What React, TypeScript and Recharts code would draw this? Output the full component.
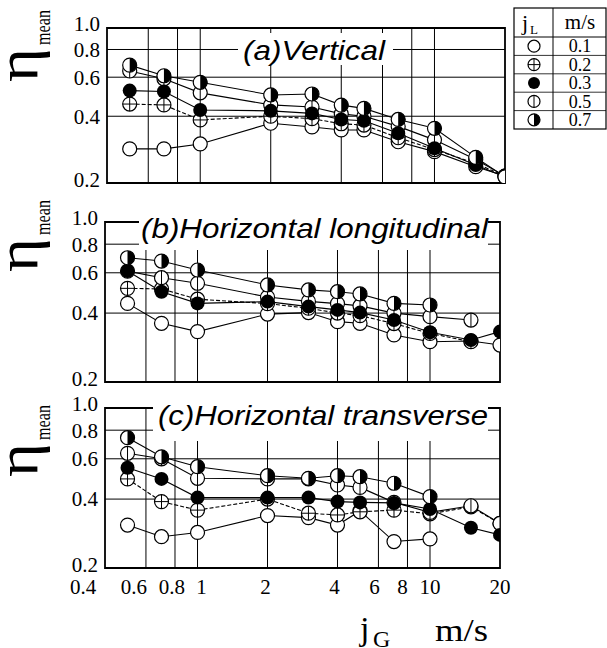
import React from "react";
import {
  CartesianGrid,
  Line,
  LineChart,
  ReferenceArea,
  XAxis,
  YAxis,
} from "recharts";

// gas superficial velocity j_G (m/s)
const jG = [0.5, 0.7, 1, 2, 3, 4, 5, 7, 10, 15, 20];
const jLLevels = ["0.1", "0.2", "0.3", "0.5", "0.7"];

const xTicks = [0.4, 0.6, 0.8, 1, 2, 4, 6, 8, 10, 20];
const yTicks = [0.2, 0.4, 0.6, 0.8, 1.0];

// (a) Vertical
const vert01 = [0.285, 0.285, 0.3, 0.372, 0.358, 0.347, 0.347, 0.307, 0.277, 0.237, 0.215];
const vert02 = [0.454, 0.45, 0.385, 0.4, 0.39, 0.37, 0.365, 0.32, 0.283, 0.245, 0.215];
const vert03 = [0.522, 0.517, 0.427, 0.423, 0.412, 0.387, 0.382, 0.335, 0.287, 0.241, 0.213];
const vert05 = [0.64, 0.59, 0.51, 0.45, 0.44, 0.41, 0.4, 0.36, 0.313, 0.255, 0.215];
const vert07 = [0.68, 0.609, 0.569, 0.499, 0.504, 0.449, 0.434, 0.387, 0.353, 0.261, 0.213];

// (b) Horizontal longitudinal
const lon01 = [0.441, 0.361, 0.332, 0.396, 0.402, 0.367, 0.361, 0.321, 0.3, 0.302, 0.29];
const lon02 = [0.513, 0.51, 0.46, 0.44, 0.42, 0.4, 0.39, 0.36, 0.326, 0.3, null];
const lon03 = [0.611, 0.496, 0.441, 0.449, 0.427, 0.413, 0.402, 0.373, 0.33, 0.305, 0.332];
const lon05 = [0.61, 0.571, 0.54, 0.47, 0.45, 0.44, 0.43, 0.4, 0.386, 0.373, null];
const lon07 = [0.698, 0.675, 0.617, 0.531, 0.505, 0.496, 0.485, 0.441, 0.434, null, null];

// (c) Horizontal transverse
const tra01 = [0.308, 0.274, 0.286, 0.339, 0.332, 0.308, 0.355, 0.261, 0.268, null, null];
const tra02 = [0.49, 0.39, 0.358, 0.4, 0.347, 0.341, 0.352, 0.358, 0.345, 0.37, 0.313];
const tra03 = [0.548, 0.49, 0.406, 0.406, 0.406, 0.39, 0.387, 0.385, 0.362, 0.3, 0.279];
const tra05 = [0.634, 0.6, 0.493, 0.49, 0.49, 0.461, 0.45, 0.387, 0.35, 0.374, 0.313];
const tra07 = [0.742, 0.612, 0.554, 0.506, 0.493, 0.506, 0.501, 0.469, 0.41, null, null];

const SERIF = "'Liberation Serif', 'DejaVu Serif', serif";
const SANS = "'Liberation Sans', Arial, sans-serif";

type Kind = "open" | "plus" | "filled" | "vbar" | "half";
const kinds: Kind[] = ["open", "plus", "filled", "vbar", "half"];
const keys = ["s01", "s02", "s03", "s05", "s07"];
// drawing order: later ones on top
const drawOrder = [0, 1, 3, 2, 4];

function Marker({ cx, cy, kind, r = 7 }: { cx: number; cy: number; kind: Kind; r?: number }) {
  if (kind === "filled") return <circle cx={cx} cy={cy} r={r} fill="#000" />;
  const ring = <circle cx={cx} cy={cy} r={r} fill="#fff" stroke="#000" strokeWidth={1.2} />;
  if (kind === "plus")
    return (
      <g>
        {ring}
        <line x1={cx - r} y1={cy} x2={cx + r} y2={cy} stroke="#000" strokeWidth={1} />
        <line x1={cx} y1={cy - r} x2={cx} y2={cy + r} stroke="#000" strokeWidth={1} />
      </g>
    );
  if (kind === "vbar")
    return (
      <g>
        {ring}
        <line x1={cx} y1={cy - r} x2={cx} y2={cy + r} stroke="#000" strokeWidth={1} />
      </g>
    );
  if (kind === "half")
    return (
      <g>
        {ring}
        <path d={`M${cx},${cy - r} A${r},${r} 0 0 1 ${cx},${cy + r} Z`} fill="#000" />
      </g>
    );
  return ring;
}

function makeDot(kind: Kind) {
  return (props: any) => {
    const { cx, cy, value, index } = props;
    if (value == null || cx == null || cy == null || Number.isNaN(cy)) return <g key={index} />;
    return (
      <g key={index}>
        <Marker cx={cx} cy={cy} kind={kind} />
      </g>
    );
  };
}

function buildRows(cols: (number | null)[][]) {
  return jG.map((x, i) => {
    const row: Record<string, number | null> = { x };
    keys.forEach((k, j) => {
      row[k] = cols[j][i];
    });
    return row;
  });
}

const xTickShift: Record<number, number> = {
  0.4: -22, 0.6: -12, 0.8: -3, 1: 4, 2: -2, 4: -3, 6: -4, 8: -5, 10: 0, 20: 0,
};

function YTick({ y, payload, right }: any) {
  const v = payload.value as number;
  const shift = v === 1 ? -4 : v === 0.2 ? -3 : 0;
  return (
    <text
      x={right}
      y={y + shift}
      dy="0.35em"
      textAnchor="end"
      fontFamily={SERIF}
      fontSize={21}
      fill="#000"
    >
      {v.toFixed(1)}
    </text>
  );
}

function XTick({ x, payload, baseY }: any) {
  const v = payload.value as number;
  return (
    <text
      x={x + (xTickShift[v] ?? 0)}
      y={baseY}
      textAnchor="middle"
      fontFamily={SERIF}
      fontSize={21}
      fill="#000"
    >
      {String(v)}
    </text>
  );
}

interface PanelProps {
  top: number;
  height: number;
  margin: { top: number; right: number; bottom: number; left: number };
  cols: (number | null)[][];
  labelRight: number;
  showX?: boolean;
}

function Panel({ top, height, margin, cols, labelRight, showX }: PanelProps) {
  const rows = buildRows(cols);
  return (
    <div style={{ position: "absolute", left: 0, top }}>
      <LineChart width={607} height={height} data={rows} margin={margin}>
        <CartesianGrid
          stroke="#000"
          strokeWidth={1}
          verticalValues={[0.6, 0.8, 1, 2, 4, 6, 8, 10]}
          horizontalValues={[0.4, 0.6, 0.8]}
        />
        <XAxis
          dataKey="x"
          type="number"
          scale="log"
          domain={[0.4, 20]}
          ticks={xTicks}
          allowDataOverflow
          hide={!showX}
          height={30}
          axisLine={false}
          tickLine={false}
          tick={<XTick baseY={594 - top} />}
          interval={0}
        />
        <YAxis
          type="number"
          scale="log"
          domain={[0.2, 1]}
          ticks={yTicks}
          allowDataOverflow
          width={60}
          axisLine={false}
          tickLine={false}
          tick={<YTick right={labelRight} />}
          interval={0}
        />
        <ReferenceArea
          x1={0.4}
          x2={20}
          y1={0.2}
          y2={1}
          fill="none"
          fillOpacity={0}
          stroke="#000"
          strokeWidth={1.8}
        />
        {drawOrder.map((j) => (
          <Line
            key={keys[j]}
            dataKey={keys[j]}
            type="linear"
            stroke="#000"
            strokeWidth={1.1}
            strokeDasharray={j === 1 ? "4 2" : undefined}
            dot={makeDot(kinds[j])}
            activeDot={false}
            connectNulls={false}
            isAnimationActive={false}
          />
        ))}
      </LineChart>
    </div>
  );
}

function EtaLabel({ bottom }: { bottom: number }) {
  return (
    <g>
      <text
        transform={`translate(37, ${bottom}) rotate(-90)`}
        fontFamily={SERIF}
        fontSize={60}
        textLength={34}
        lengthAdjust="spacingAndGlyphs"
      >
        η
      </text>
      <text
        transform={`translate(50, ${bottom - 37}) rotate(-90)`}
        fontFamily={SERIF}
        fontSize={22}
        textLength={35}
        lengthAdjust="spacingAndGlyphs"
      >
        mean
      </text>
    </g>
  );
}

function Title({ x, y, w, text, bg }: { x: number; y: number; w: number; text: string; bg: number[] }) {
  return (
    <g>
      <rect x={bg[0]} y={bg[1]} width={bg[2] - bg[0]} height={bg[3] - bg[1]} fill="#fff" />
      <text
        x={x}
        y={y}
        fontFamily={SANS}
        fontStyle="italic"
        fontSize={28}
        textLength={w}
        lengthAdjust="spacingAndGlyphs"
      >
        {text}
      </text>
    </g>
  );
}

function LegendTable() {
  const left = 514;
  const mid = 553;
  const right = 606;
  const top = 8;
  const head = 37;
  const rowH = 18.4;
  const bottom = head + rowH * jLLevels.length;
  return (
    <g>
      <rect x={left} y={top} width={right - left} height={bottom - top} fill="#fff" stroke="#000" strokeWidth={1.2} />
      <line x1={mid} y1={top} x2={mid} y2={bottom} stroke="#000" strokeWidth={1} />
      <line x1={left} y1={head} x2={right} y2={head} stroke="#000" strokeWidth={1} />
      <text x={522} y={30} fontFamily={SERIF} fontSize={22}>j</text>
      <text x={530} y={34} fontFamily={SERIF} fontSize={13}>L</text>
      <text x={580} y={29} fontFamily={SERIF} fontSize={21} textAnchor="middle">m/s</text>
      {jLLevels.map((lvl, i) => {
        const y0 = head + i * rowH;
        return (
          <g key={lvl}>
            {i > 0 && <line x1={left} y1={y0} x2={right} y2={y0} stroke="#000" strokeWidth={0.8} />}
            <Marker cx={534} cy={y0 + rowH / 2} kind={kinds[i]} r={6} />
            <text x={580} y={y0 + rowH / 2} dy="0.34em" textAnchor="middle" fontFamily={SERIF} fontSize={18}>
              {lvl}
            </text>
          </g>
        );
      })}
    </g>
  );
}

export default function App() {
  return (
    <div style={{ position: "absolute", left: 0, top: 0, width: 607, height: 648, background: "#fff" }}>
      <Panel
        top={0}
        height={200}
        margin={{ top: 28, right: 102, bottom: 17, left: 47 }}
        cols={[vert01, vert02, vert03, vert05, vert07]}
        labelRight={100}
      />
      <Panel
        top={195}
        height={205}
        margin={{ top: 27, right: 107, bottom: 18, left: 45 }}
        cols={[lon01, lon02, lon03, lon05, lon07]}
        labelRight={98}
      />
      <Panel
        top={385}
        height={263}
        margin={{ top: 23, right: 107, bottom: 50, left: 45 }}
        cols={[tra01, tra02, tra03, tra05, tra07]}
        labelRight={98}
        showX
      />
      <svg
        width={607}
        height={648}
        style={{ position: "absolute", left: 0, top: 0, pointerEvents: "none" }}
      >
        <Title x={243} y={60} w={142} text="(a)Vertical" bg={[238, 33, 393, 65]} />
        <Title x={141} y={238} w={347} text="(b)Horizontal longitudinal" bg={[139, 210, 488, 250]} />
        <Title x={158} y={425} w={330} text="(c)Horizontal transverse" bg={[153, 398, 488, 441]} />
        <EtaLabel bottom={82} />
        <EtaLabel bottom={272} />
        <EtaLabel bottom={477} />
        <text x={360} y={640} fontFamily={SERIF} fontSize={34}>j</text>
        <text x={373} y={647} fontFamily={SERIF} fontSize={24}>G</text>
        <text x={435} y={641} fontFamily={SERIF} fontSize={32} textLength={53} lengthAdjust="spacingAndGlyphs">
          m/s
        </text>
        <LegendTable />
      </svg>
    </div>
  );
}
